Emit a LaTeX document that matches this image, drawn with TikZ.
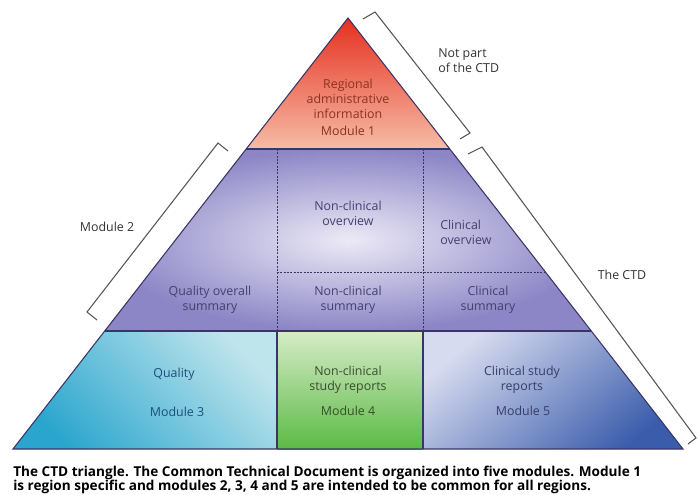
\documentclass[tikz,border=0pt]{standalone}
\usepackage{fontspec}
\setmainfont{Open Sans}
\definecolor{mOneTop}{HTML}{E5301F}
\definecolor{mOneBot}{HTML}{F6BCA6}
\definecolor{mTwoIn}{HTML}{ECEAF6}
\definecolor{mTwoOut}{HTML}{8C86C6}
\definecolor{mThreeDark}{HTML}{2AA6CE}
\definecolor{mThreeLight}{HTML}{BEE4EC}
\definecolor{mFourTop}{HTML}{D6ECC8}
\definecolor{mFourBot}{HTML}{5CBA45}
\definecolor{mFiveLight}{HTML}{D7DBEF}
\definecolor{mFiveDark}{HTML}{3A5CAB}
\definecolor{edgeCol}{HTML}{3B3566}
\definecolor{bracketCol}{HTML}{555555}
\definecolor{txtOne}{HTML}{8A3322}
\definecolor{txtTwo}{HTML}{463F6E}
\definecolor{txtThree}{HTML}{1E4E7A}
\definecolor{txtFour}{HTML}{3A4E2E}
\definecolor{txtFive}{HTML}{383D68}
\definecolor{txtOut}{HTML}{333333}
\begin{document}
\begin{tikzpicture}[x=0.75pt,y=-0.75pt,
  edge/.style={draw=edgeCol, line width=0.8pt},
  divider/.style={draw=edgeCol, line width=0.6pt, dash pattern=on 1.5pt off 1pt},
  bracket/.style={draw=bracketCol, line width=0.8pt, line join=miter},
  lbl/.style={font=\fontsize{9.3}{11.4}\selectfont, align=center, inner sep=0pt},
  outlbl/.style={lbl, text=txtOut}]
\useasboundingbox (0,0) rectangle (698,495);

% triangle corners and band boundaries
\coordinate (A) at (348,18);
\coordinate (L1) at (246.2,149);
\coordinate (R1) at (449.8,149);
\coordinate (L2) at (104.7,331);
\coordinate (R2) at (591.3,331);
\coordinate (BL) at (13,449);
\coordinate (BR) at (683,449);
\coordinate (C1t) at (277,149);
\coordinate (C2t) at (423,149);
\coordinate (C1m) at (277,331);
\coordinate (C2m) at (423,331);
\coordinate (C1b) at (277,449);
\coordinate (C2b) at (423,449);
\coordinate (Hm) at (277,272);
\coordinate (Hr) at (545.4,272);

% module fills
\path[top color=mOneTop, bottom color=mOneBot] (A) -- (R1) -- (L1) -- cycle;
\path[inner color=mTwoIn, outer color=mTwoOut] (L1) -- (R1) -- (R2) -- (L2) -- cycle;
\path[top color=mThreeLight, bottom color=mThreeDark, shading angle=-45] (L2) -- (C1m) -- (C1b) -- (BL) -- cycle;
\path[top color=mFourTop, bottom color=mFourBot] (C1m) -- (C2m) -- (C2b) -- (C1b) -- cycle;
\path[top color=mFiveLight, bottom color=mFiveDark, shading angle=40] (C2m) -- (R2) -- (BR) -- (C2b) -- cycle;

% dividers inside module 2
\draw[divider] (C1t) -- (C1m);
\draw[divider] (C2t) -- (C2m);
\draw[divider] (Hm) -- (Hr);

% solid borders
\draw[edge] (C1m) -- (C1b);
\draw[edge] (C2m) -- (C2b);
\draw[edge] (L1) -- (R1);
\draw[edge] (L2) -- (R2);
\draw[edge] (A) -- (BR) -- (BL) -- cycle;

% brackets
\coordinate (b1a) at (363,19);
\coordinate (b1b) at (375,12);
\coordinate (b1c) at (470,133);
\coordinate (b1d) at (460,139);
\draw[bracket] (b1a) -- (b1b) -- (b1c) -- (b1d);
\coordinate (b2a) at (228,151);
\coordinate (b2b) at (218,143);
\coordinate (b2c) at (87,312);
\coordinate (b2d) at (97,320);
\draw[bracket] (b2a) -- (b2b) -- (b2c) -- (b2d);
\coordinate (b3a) at (468,154);
\coordinate (b3b) at (482,147);
\coordinate (b3c) at (696,438);
\coordinate (b3d) at (688,444);
\draw[bracket] (b3a) -- (b3b) -- (b3c) -- (b3d);

% module 1 text
\node[lbl, text=txtOne] (reg) at (348,99) {Regional\\administrative\\information};
\node[lbl, text=txtOne] (mod1) at (348,131) {Module 1};

% module 2 text
\node[lbl, text=txtTwo] (ncov) at (348,213) {Non-clinical\\overview};
\node[lbl, text=txtTwo, align=left, anchor=west] (cov) at (440,232) {Clinical\\overview};
\node[lbl, text=txtTwo] (qos) at (210,300) {Quality overall\\summary};
\node[lbl, text=txtTwo] (ncsum) at (348,300) {Non-clinical\\summary};
\node[lbl, text=txtTwo] (csum) at (488,300) {Clinical\\summary};

% modules 3 to 5 text
\node[lbl, text=txtThree] (qual) at (174,374) {Quality};
\node[lbl, text=txtThree] (mod3) at (177,412) {Module 3};
\node[lbl, text=txtFour] (ncsr) at (348,380) {Non-clinical\\study reports};
\node[lbl, text=txtFour] (mod4) at (348,411) {Module 4};
\node[lbl, text=txtFive] (csr) at (522,380) {Clinical study\\reports};
\node[lbl, text=txtFive] (mod5) at (523,411) {Module 5};

% labels beside the brackets
\node[outlbl, align=left, anchor=west] (notpart) at (438,61) {Not part\\of the CTD};
\node[outlbl] (m2lbl) at (107,227) {Module 2};
\node[outlbl] (ctdlbl) at (622,275) {The CTD};

% caption (base anchor sits on the second line's baseline)
\node[anchor=base west, align=left, inner sep=0pt, text=black,
      font=\bfseries\fontsize{10.2}{10.5}\selectfont] (caption) at (13,490.5)
  {The CTD triangle. The Common Technical Document is organized into five modules. Module 1\\
   is region specific and modules 2, 3, 4 and 5 are intended to be common for all regions.};
\end{tikzpicture}
\end{document}
